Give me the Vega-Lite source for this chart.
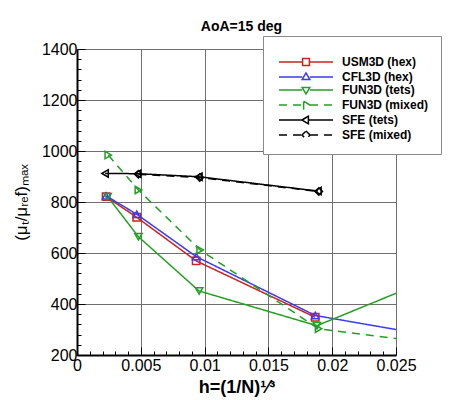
{
  "$schema": "https://vega.github.io/schema/vega-lite/v6.json",
  "width": 319,
  "height": 306,
  "autosize": {"type": "none"},
  "padding": {"left": 77, "top": 49, "right": 54, "bottom": 45},
  "background": "white",
  "config": {
    "font": "Liberation Sans",
    "view": {"stroke": null},
    "axis": {
      "domainColor": "black",
      "domainWidth": 2,
      "tickColor": "black",
      "gridColor": "#707070",
      "gridWidth": 1,
      "labelFont": "Liberation Sans",
      "labelFontSize": 16,
      "labelColor": "black",
      "titleColor": "black",
      "labelFlush": false,
      "labelOverlap": false
    }
  },
  "title": {
    "text": "AoA=15 deg",
    "fontSize": 14,
    "fontWeight": "bold",
    "color": "black",
    "offset": 2,
    "dx": 5
  },
  "data": {
    "values": [
      {"series": "USM3D (hex)", "h": 0.00228, "v": 821},
      {"series": "USM3D (hex)", "h": 0.00468, "v": 740},
      {"series": "USM3D (hex)", "h": 0.00934, "v": 569},
      {"series": "USM3D (hex)", "h": 0.01867, "v": 348},
      {"series": "CFL3D (hex)", "h": 0.00228, "v": 824},
      {"series": "CFL3D (hex)", "h": 0.00468, "v": 752},
      {"series": "CFL3D (hex)", "h": 0.00934, "v": 586},
      {"series": "CFL3D (hex)", "h": 0.01867, "v": 355},
      {"series": "CFL3D (hex)", "h": 0.0375, "v": 191},
      {"series": "FUN3D (tets)", "h": 0.0024, "v": 821},
      {"series": "FUN3D (tets)", "h": 0.00481, "v": 664},
      {"series": "FUN3D (tets)", "h": 0.00957, "v": 451},
      {"series": "FUN3D (tets)", "h": 0.0188, "v": 315},
      {"series": "FUN3D (tets)", "h": 0.0378, "v": 704},
      {"series": "FUN3D (mixed)", "h": 0.00245, "v": 984},
      {"series": "FUN3D (mixed)", "h": 0.00481, "v": 847},
      {"series": "FUN3D (mixed)", "h": 0.00965, "v": 612},
      {"series": "FUN3D (mixed)", "h": 0.01893, "v": 303},
      {"series": "FUN3D (mixed)", "h": 0.038, "v": 183},
      {"series": "SFE (tets)", "h": 0.0022, "v": 912},
      {"series": "SFE (tets)", "h": 0.00475, "v": 911},
      {"series": "SFE (tets)", "h": 0.00955, "v": 899},
      {"series": "SFE (tets)", "h": 0.01888, "v": 843},
      {"series": "SFE (mixed)", "h": 0.00481, "v": 909},
      {"series": "SFE (mixed)", "h": 0.00962, "v": 896},
      {"series": "SFE (mixed)", "h": 0.01895, "v": 841}
    ]
  },
  "encoding": {
    "x": {
      "field": "h",
      "type": "quantitative",
      "scale": {"domain": [0, 0.025], "nice": false, "zero": false},
      "axis": {
        "title": "h=(1/N)¹⁄³",
        "titleFontSize": 18,
        "titleFontWeight": "bold",
        "titlePadding": 1,
        "values": [0, 0.001, 0.002, 0.003, 0.004, 0.005, 0.006, 0.007, 0.008, 0.009, 0.01, 0.011, 0.012, 0.013, 0.014, 0.015, 0.016, 0.017, 0.018, 0.019, 0.02, 0.021, 0.022, 0.023, 0.024, 0.025],
        "format": "~g",
        "labelExpr": "round(datum.value * 1000) % 5 === 0 ? datum.label : ''",
        "gridOpacity": {"condition": {"test": "round(datum.value * 1000) % 5 === 0 && datum.value > 0", "value": 1}, "value": 0},
        "tickSize": {"condition": {"test": "round(datum.value * 1000) % 5 === 0", "value": -8}, "value": -4},
        "labelPadding": 10
      }
    },
    "y": {
      "field": "v",
      "type": "quantitative",
      "scale": {"domain": [200, 1400], "nice": false, "zero": false},
      "axis": {
        "title": "(μₜ/μᵣₑf)ₘₐₓ",
        "titleFontSize": 17,
        "titleFontWeight": "normal",
        "titlePadding": 11,
        "values": [200, 240, 280, 320, 360, 400, 440, 480, 520, 560, 600, 640, 680, 720, 760, 800, 840, 880, 920, 960, 1000, 1040, 1080, 1120, 1160, 1200, 1240, 1280, 1320, 1360, 1400],
        "labelExpr": "datum.value % 200 === 0 ? datum.label : ''",
        "gridOpacity": {"condition": {"test": "datum.value % 200 === 0 && datum.value > 200", "value": 1}, "value": 0},
        "tickSize": {"condition": {"test": "datum.value % 200 === 0", "value": -8}, "value": -4},
        "labelPadding": 8,
        "format": "d"
      }
    },
    "color": {
      "field": "series",
      "type": "nominal",
      "scale": {
        "domain": ["USM3D (hex)", "CFL3D (hex)", "FUN3D (tets)", "FUN3D (mixed)", "SFE (tets)", "SFE (mixed)"],
        "range": ["#cc2222", "#3b3bee", "#22a022", "#22a022", "#000000", "#000000"]
      },
      "legend": {
        "title": " ",
        "titleFontSize": 8,
        "titlePadding": 0,
        "orient": "none",
        "legendX": 186,
        "legendY": -13,
        "fillColor": "white",
        "strokeColor": "#8a8a8a",
        "padding": 12,
        "symbolSize": 64,
        "symbolStrokeWidth": 1.5,
        "symbolFillColor": "transparent",
        "labelOffset": 55,
        "labelFontSize": 12,
        "labelFontWeight": "bold",
        "labelFont": "Liberation Sans",
        "labelColor": "black",
        "labelExpr": "datum.label + '\u00a0\u00a0\u00a0'",
        "rowPadding": 1,
        "encode": {
          "symbols": {
            "update": {
              "shape": {"signal": "datum.value === 'USM3D (hex)' ? 'M-0.5,0H5.4M7.1,0H13M5.4,-0.85H7.1V0.85H5.4Z' : datum.value === 'CFL3D (hex)' ? 'M-0.5,0H5.3M7.2,0H13M5.3,0.6L6.25,-1L7.2,0.6Z' : datum.value === 'FUN3D (tets)' ? 'M-0.5,0H5.3M7.2,0H13M5.3,-0.6L7.2,-0.6L6.25,1Z' : datum.value === 'FUN3D (mixed)' ? 'M-0.5,0H5.65M7.25,0H13M5.65,-0.95L7.25,0L5.65,0.95Z' : datum.value === 'SFE (tets)' ? 'M-0.5,0H5.25M6.85,0H13M6.85,-0.95L5.25,0L6.85,0.95Z' : 'M-0.5,0H5.25M7.25,0H13M6.25,-1L7.25,0L6.25,1L5.25,0Z'"},
              "fill": {"value": "transparent"}
            }
          }
        }
      }
    }
  },
  "layer": [
    {
      "mark": {"type": "line", "strokeWidth": 1.5, "clip": true},
      "encoding": {
        "strokeDash": {
          "field": "series",
          "type": "nominal",
          "scale": {
            "domain": ["USM3D (hex)", "CFL3D (hex)", "FUN3D (tets)", "FUN3D (mixed)", "SFE (tets)", "SFE (mixed)"],
            "range": [[1, 0], [1, 0], [1, 0], [8, 6], [1, 0], [8, 6]]
          }
        },
        "order": {"field": "h", "type": "quantitative"}
      }
    },
    {
      "mark": {"type": "point", "filled": false, "strokeWidth": 1.5, "size": 55, "opacity": 1, "clip": true},
      "encoding": {
        "shape": {
          "field": "series",
          "type": "nominal",
          "scale": {
            "domain": ["USM3D (hex)", "CFL3D (hex)", "FUN3D (tets)", "FUN3D (mixed)", "SFE (tets)", "SFE (mixed)"],
            "range": ["square", "triangle-up", "triangle-down", "triangle-right", "triangle-left", "diamond"]
          },
          "legend": null
        }
      }
    }
  ],
  "resolve": {"scale": {"shape": "independent"}, "legend": {"shape": "independent"}}
}
